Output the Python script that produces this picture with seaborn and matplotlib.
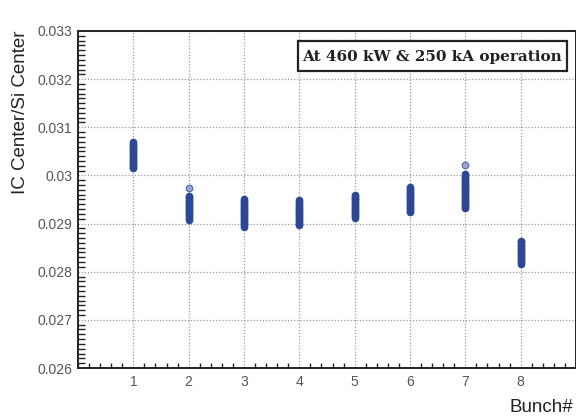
import matplotlib
matplotlib.use("Agg")
import matplotlib.pyplot as plt
from matplotlib.ticker import MultipleLocator, FormatStrFormatter
from matplotlib.patches import Rectangle
import seaborn as sns
import pandas as pd

# ---- data ----
bunch1 = [0.03015, 0.03018, 0.03021, 0.03024, 0.03027, 0.03030, 0.03033, 0.03036,
          0.03039, 0.03042, 0.03045, 0.03048, 0.03051, 0.03054, 0.03057, 0.03060,
          0.03063, 0.03066, 0.03069]
bunch2 = [0.02908, 0.02911, 0.02914, 0.02917, 0.02920, 0.02923, 0.02926, 0.02929,
          0.02932, 0.02935, 0.02938, 0.02941, 0.02944, 0.02947, 0.02950, 0.02953,
          0.02956, 0.02958]
bunch2_out = [0.02974]
bunch3 = [0.02893, 0.02896, 0.02899, 0.02902, 0.02905, 0.02908, 0.02911, 0.02914,
          0.02917, 0.02920, 0.02923, 0.02926, 0.02929, 0.02932, 0.02935, 0.02938,
          0.02941, 0.02944, 0.02947, 0.02951]
bunch4 = [0.02896, 0.02899, 0.02902, 0.02905, 0.02908, 0.02911, 0.02914, 0.02917,
          0.02920, 0.02923, 0.02926, 0.02929, 0.02932, 0.02935, 0.02938, 0.02941,
          0.02945, 0.02948]
bunch5 = [0.02912, 0.02915, 0.02918, 0.02921, 0.02924, 0.02927, 0.02930, 0.02933,
          0.02936, 0.02939, 0.02942, 0.02945, 0.02948, 0.02951, 0.02954, 0.02957,
          0.02959]
bunch6 = [0.02924, 0.02927, 0.02930, 0.02933, 0.02936, 0.02939, 0.02942, 0.02945,
          0.02948, 0.02951, 0.02954, 0.02957, 0.02960, 0.02963, 0.02966, 0.02969,
          0.02972, 0.02975]
bunch7 = [0.02932, 0.02935, 0.02938, 0.02941, 0.02944, 0.02947, 0.02950, 0.02953,
          0.02956, 0.02959, 0.02962, 0.02965, 0.02968, 0.02971, 0.02974, 0.02977,
          0.02980, 0.02983, 0.02986, 0.02989, 0.02992, 0.02995, 0.02998, 0.03002]
bunch7_out = [0.03021]
bunch8 = [0.02817, 0.02820, 0.02823, 0.02826, 0.02829, 0.02832, 0.02835, 0.02838,
          0.02841, 0.02844, 0.02847, 0.02850, 0.02853, 0.02856, 0.02859, 0.02862,
          0.02864]

bunch_values = [bunch1, bunch2, bunch3, bunch4, bunch5, bunch6, bunch7, bunch8]
outliers = {2: bunch2_out, 7: bunch7_out}

x_ticks = [1, 2, 3, 4, 5, 6, 7, 8]
y_ticks = [0.026, 0.027, 0.028, 0.029, 0.030, 0.031, 0.032, 0.033]

rows = []
for b, vals in zip(x_ticks, bunch_values):
    for v in vals:
        rows.append({"bunch": b, "ratio": v})
df = pd.DataFrame(rows)
out_rows = [{"bunch": b, "ratio": v} for b, vs in outliers.items() for v in vs]
df_out = pd.DataFrame(out_rows)

sns.set_style("white")
plt.rcParams["font.family"] = ["Liberation Sans", "DejaVu Sans"]

fig = plt.figure(figsize=(5.76, 4.16), dpi=100)
ax = fig.add_axes([78 / 576, 1 - 368 / 416, 1 - 78 / 576, (368 - 31) / 416])

dark = "#2b4796"
sns.scatterplot(data=df, x="bunch", y="ratio", ax=ax, s=22, color=dark,
                edgecolor=dark, linewidth=0.8, zorder=3, legend=False)
sns.scatterplot(data=df_out, x="bunch", y="ratio", ax=ax, s=22, color="#9aa8d4",
                edgecolor="#5a6fb0", linewidth=0.9, zorder=3, legend=False)

ax.set_xlim(0, 9)
ax.set_ylim(0.026, 0.033)
ax.set_xticks(x_ticks)
ax.set_yticks(y_ticks)
ax.yaxis.set_major_formatter(FormatStrFormatter("%g"))
ax.xaxis.set_minor_locator(MultipleLocator(0.2))
ax.yaxis.set_minor_locator(MultipleLocator(0.0001))

ax.grid(True, which="major", linestyle=(0, (1, 1.5)), color="#9a9a9a", linewidth=0.9)
ax.set_axisbelow(True)

for sp in ax.spines.values():
    sp.set_color("#222222")
    sp.set_linewidth(1.4)

ax.tick_params(axis="y", which="major", direction="in", length=10, width=1.1,
               color="#222222", labelsize=10, labelcolor="#555555", pad=4)
ax.tick_params(axis="y", which="minor", direction="in", length=5, width=1.0,
               color="#222222", left=True)
ax.tick_params(axis="x", which="major", direction="in", length=6.5, width=1.1,
               color="#222222", labelsize=10, labelcolor="#555555", pad=5)
ax.tick_params(axis="x", which="minor", direction="in", length=3.5, width=1.0,
               color="#222222", bottom=True)

ax.set_ylabel("IC Center/Si Center", fontsize=13.5, color="#222222", loc="top")
ax.yaxis.set_label_coords(-0.098, 1.0)
ax.set_xlabel("Bunch#", fontsize=13.5, color="#222222", loc="right")
ax.xaxis.set_label_coords(0.995, -0.092)

# annotation box
bx0, bx1 = (298 - 78) / 498, (567 - 78) / 498
by1, by0 = 1 - (41 - 31) / 337, 1 - (71 - 31) / 337
ax.add_patch(Rectangle((bx0, by0), bx1 - bx0, by1 - by0, transform=ax.transAxes,
                       facecolor="white", edgecolor="#222222", linewidth=1.6,
                       zorder=5, clip_on=False))
ax.text((bx0 + bx1) / 2, (by0 + by1) / 2, "At 460 kW & 250 kA operation",
        transform=ax.transAxes, ha="center", va="center_baseline", fontsize=11,
        fontweight="bold", family=["DejaVu Serif"], color="#222222", zorder=6)

fig.savefig("out.png", dpi=100)
